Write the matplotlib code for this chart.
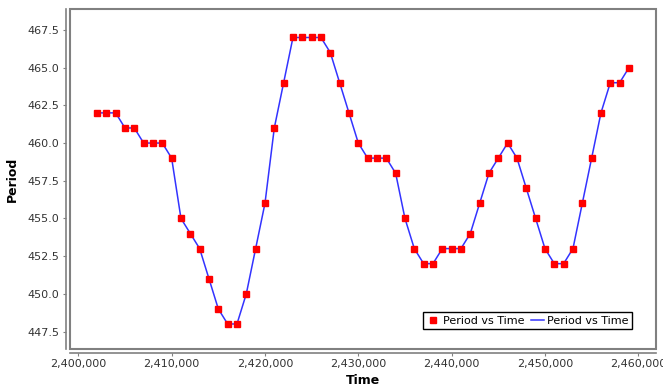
import matplotlib
matplotlib.use("Agg")
import matplotlib.pyplot as plt
from matplotlib.patches import Rectangle
from matplotlib.ticker import FuncFormatter

# Observed period at each time step
time = list(range(2402000, 2460000, 1000))
period = [462, 462, 462, 461, 461, 460, 460, 460, 459, 455,
          454, 453, 451, 449, 448, 448, 450, 453, 456, 461,
          464, 467, 467, 467, 467, 466, 464, 462, 460, 459,
          459, 459, 458, 455, 453, 452, 452, 453, 453, 453,
          454, 456, 458, 459, 460, 459, 457, 455, 453, 452,
          452, 453, 456, 459, 462, 464, 464, 465]

xticks = [2400000, 2410000, 2420000, 2430000, 2440000, 2450000, 2460000]
yticks = [447.5, 450.0, 452.5, 455.0, 457.5, 460.0, 462.5, 465.0, 467.5]

W, H = 663, 392
fig = plt.figure(figsize=(W / 100, H / 100), dpi=100)
left, right, top, bottom = 70, 656, 9, 349
ax = fig.add_axes([left / W, 1 - bottom / H, (right - left) / W, (bottom - top) / H])

grey = "#808080"
ax.plot(time, period, color="#3333ff", lw=1.1, zorder=2, label="Period vs Time")
ax.plot(time, period, ls="none", marker="s", ms=4.8, color="#ff0000",
        mec="#ff0000", zorder=3, label="Period vs Time")

ax.set_xlim(2399110, 2461897)
ax.set_ylim(446.34, 468.89)
ax.set_xticks(xticks)
ax.set_yticks(yticks)
ax.xaxis.set_major_formatter(FuncFormatter(lambda v, p: f"{int(v):,}"))
ax.yaxis.set_major_formatter(FuncFormatter(lambda v, p: f"{v:.1f}"))

# plot frame plus separate offset axis lines
for s in ["top", "right"]:
    ax.spines[s].set_visible(False)
for s in ["left", "bottom"]:
    ax.spines[s].set_position(("outward", 3))
    ax.spines[s].set_color(grey)
    ax.spines[s].set_linewidth(1.2)
ax.add_patch(Rectangle((0, 0), 1, 1, transform=ax.transAxes, fill=False,
                       ec=grey, lw=1.5, clip_on=False, zorder=5))

ax.tick_params(direction="out", length=2.5, width=0.8, color=grey,
               labelsize=8, labelcolor="#333333", pad=2)
ax.set_xlabel("Time", fontsize=9, fontweight="bold", labelpad=3)
ax.set_ylabel("Period", fontsize=9, fontweight="bold", labelpad=6)

# legend reordered: marker first, then line
h, l = ax.get_legend_handles_labels()
leg = ax.legend([h[1], h[0]], [l[1], l[0]], ncol=2, fontsize=8,
                loc="lower right", bbox_to_anchor=(632 / W, 1 - 329 / H),
                bbox_transform=fig.transFigure, fancybox=False,
                edgecolor="black", framealpha=1, handlelength=1.2,
                handletextpad=0.3, columnspacing=0.5, borderpad=0.3,
                borderaxespad=0)
leg.get_frame().set_linewidth(1.0)

fig.savefig("out.png", dpi=100)
